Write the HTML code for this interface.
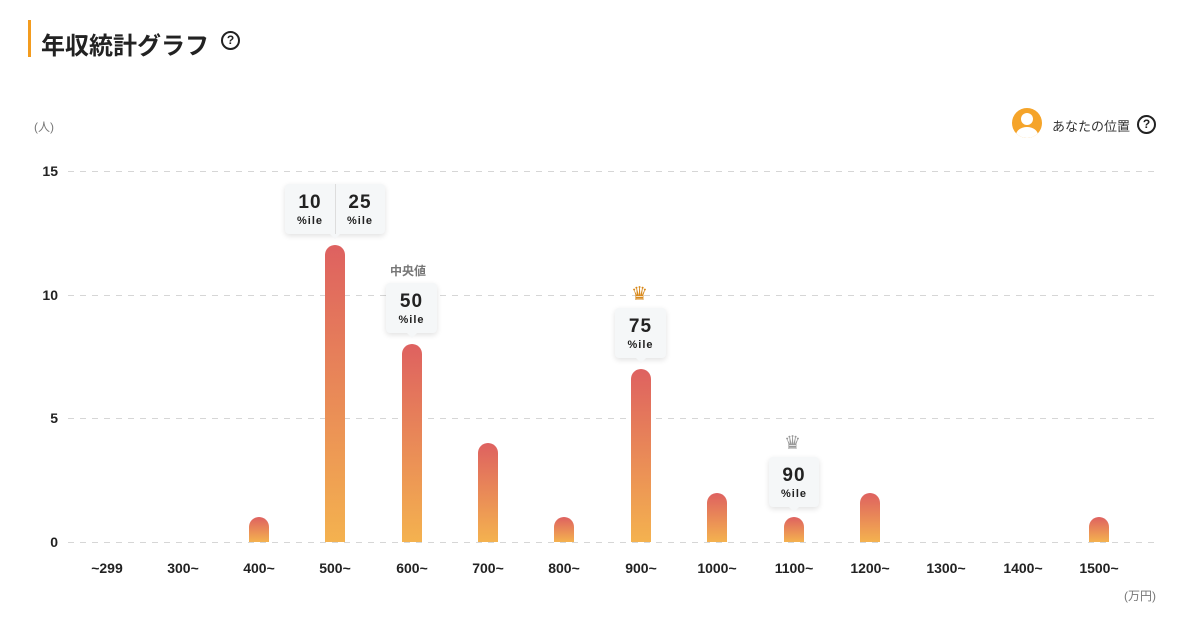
<!DOCTYPE html>
<html><head><meta charset="utf-8"><style>
body{margin:0;width:1192px;height:620px;background:#fff;position:relative;overflow:hidden;font-family:"Liberation Sans","Noto Sans CJK JP",sans-serif;color:#222}
.a{position:absolute}
.grid{position:absolute;left:68px;width:1090px;height:1px;background:repeating-linear-gradient(90deg,#d6d6d6 0 6px,transparent 6px 12px)}
.yl{position:absolute;left:30px;width:28px;text-align:right;font-size:14px;font-weight:bold;color:#222}
.bar{position:absolute;width:20px;border-radius:10px 10px 0 0;background:linear-gradient(#de6160,#f4b24f)}
.xl{position:absolute;top:560px;width:70px;text-align:center;font-size:14px;font-weight:bold;color:#222}
.tip{position:absolute;background:#f5f7f8;border-radius:4px;box-shadow:0 2px 6px rgba(0,0,0,.12);text-align:center;height:50px}
.tip .n{font-size:19px;font-weight:bold;letter-spacing:1px;margin-top:8px;line-height:22px}
.tip .p{font-size:11px;font-weight:bold;letter-spacing:1px;line-height:15px}
.tip:after{content:"";position:absolute;left:50%;bottom:-5px;margin-left:-5px;border:5px solid transparent;border-bottom:0;border-top-color:#f5f7f8}
.crown{position:absolute;font-size:19px;line-height:19px}
</style></head><body>
<div class="a" style="left:28px;top:20px;width:3px;height:37px;background:#f39c1f"></div>
<div class="a" style="left:41px;top:26px;font-size:24px;font-weight:bold;color:#222">年収統計グラフ</div>
<div class="a" style="left:221px;top:31px;width:15px;height:15px;border:2px solid #222;border-radius:50%;font-size:12px;font-weight:bold;text-align:center;line-height:15px">?</div>
<div class="a" style="left:34px;top:118px;font-size:12px;color:#777">(人)</div>
<div class="a" style="left:1012px;top:108px;width:30px;height:30px;border-radius:50%;background:#f5a42a;overflow:hidden"><div class="a" style="left:9px;top:5px;width:12px;height:12px;border-radius:50%;background:#fff"></div><div class="a" style="left:4px;top:19px;width:22px;height:16px;border-radius:50%;background:#fff"></div></div>
<div class="a" style="left:1052px;top:116px;font-size:13px;color:#333">あなたの位置</div>
<div class="a" style="left:1137px;top:115px;width:15px;height:15px;border:2px solid #222;border-radius:50%;font-size:12px;font-weight:bold;text-align:center;line-height:15px">?</div>
<div class="grid" style="top:171px"></div><div class="grid" style="top:295px"></div><div class="grid" style="top:418px"></div><div class="grid" style="top:542px"></div>
<div class="yl" style="top:163px">15</div><div class="yl" style="top:287px">10</div><div class="yl" style="top:410px">5</div><div class="yl" style="top:534px">0</div>
<div class="bar" style="left:249px;top:517px;height:25px"></div>
<div class="bar" style="left:325px;top:245px;height:297px"></div>
<div class="bar" style="left:402px;top:344px;height:198px"></div>
<div class="bar" style="left:478px;top:443px;height:99px"></div>
<div class="bar" style="left:554px;top:517px;height:25px"></div>
<div class="bar" style="left:631px;top:369px;height:173px"></div>
<div class="bar" style="left:707px;top:493px;height:49px"></div>
<div class="bar" style="left:784px;top:517px;height:25px"></div>
<div class="bar" style="left:860px;top:493px;height:49px"></div>
<div class="bar" style="left:1089px;top:517px;height:25px"></div>
<div class="xl" style="left:72px">~299</div><div class="xl" style="left:148px">300~</div><div class="xl" style="left:224px">400~</div><div class="xl" style="left:300px">500~</div><div class="xl" style="left:377px">600~</div><div class="xl" style="left:453px">700~</div><div class="xl" style="left:529px">800~</div><div class="xl" style="left:606px">900~</div><div class="xl" style="left:682px">1000~</div><div class="xl" style="left:759px">1100~</div><div class="xl" style="left:835px">1200~</div><div class="xl" style="left:911px">1300~</div><div class="xl" style="left:988px">1400~</div><div class="xl" style="left:1064px">1500~</div>
<div class="a" style="left:1124px;top:587px;font-size:12px;color:#777">(万円)</div>
<div class="tip" style="left:285px;top:184px;width:100px"><div class="a" style="left:50px;top:0;width:1px;height:50px;background:#ddd"></div><div style="display:flex"><div style="width:50px"><div class="n">10</div><div class="p">%ile</div></div><div style="width:50px"><div class="n">25</div><div class="p">%ile</div></div></div></div>
<div class="a" style="left:390px;top:262px;font-size:12px;font-weight:bold;color:#777">中央値</div>
<div class="tip" style="left:386px;top:283px;width:51px"><div class="n">50</div><div class="p">%ile</div></div>
<div class="crown" style="left:631px;top:285px;color:#d8891c">♛</div>
<div class="tip" style="left:615px;top:308px;width:51px"><div class="n">75</div><div class="p">%ile</div></div>
<div class="crown" style="left:784px;top:434px;color:#999">♛</div>
<div class="tip" style="left:769px;top:457px;width:50px"><div class="n">90</div><div class="p">%ile</div></div>
</body></html>
